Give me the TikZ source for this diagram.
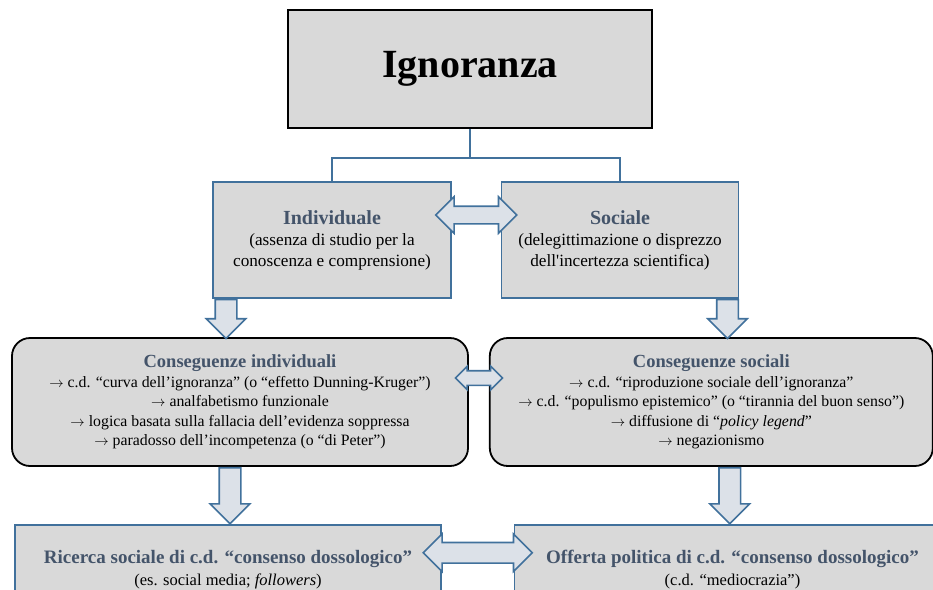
\documentclass[tikz,border=0pt]{standalone}
\usepackage{fontspec}
\setmainfont{Liberation Serif}
\usepackage{xcolor}
\usetikzlibrary{positioning,shapes.arrows,calc}
\definecolor{boxgray}{HTML}{D9D9D9}
\definecolor{linkblue}{HTML}{41719C}
\definecolor{headslate}{HTML}{44546A}
\definecolor{arrowfill}{HTML}{DCE1E8}
\newcommand{\pointer}{$\rightarrow$}
\tikzset{
  topbox/.style={draw=black, line width=1.8pt, fill=boxgray, inner sep=0pt, align=center},
  levelbox/.style={draw=linkblue, line width=1.5pt, fill=boxgray, inner sep=0pt, align=center},
  conbox/.style={draw=black, line width=1.8pt, fill=boxgray, rounded corners=18pt, inner sep=0pt, align=center},
  link/.style={draw=linkblue, line width=1.5pt},
  downarrow/.style={single arrow, draw=linkblue, fill=arrowfill, line width=1.6pt, inner sep=10pt,
    minimum width=38pt, single arrow head extend=9pt, shape border rotate=270},
  twoway/.style={double arrow, draw=linkblue, fill=arrowfill, line width=1.6pt}
}

\begin{document}
\begin{tikzpicture}[x=1pt, y=-1pt]
\useasboundingbox (0,0) rectangle (933,589);

% 1. Root
\node[topbox, minimum width=364pt, minimum height=118pt, font=\fontsize{40}{44}\selectfont\bfseries] (ign) at (470,69) {Ignoranza};

% 2. Two kinds of ignorance
\node[levelbox, minimum width=238pt, minimum height=116pt, font=\fontsize{17.2}{21}\selectfont] (indiv) at (332,240)
  {{\fontsize{20}{22}\selectfont\bfseries\color{headslate}Individuale}\\(assenza di studio per la\\conoscenza e comprensione)};
\node[levelbox, minimum width=237pt, minimum height=116pt, font=\fontsize{17.2}{21}\selectfont, right=49pt of indiv] (soc)
  {{\fontsize{20}{22}\selectfont\bfseries\color{headslate}Sociale}\\(delegittimazione o disprezzo\\dell\textquotesingle incertezza scientifica)};

% 3. Consequences
\node[conbox, minimum width=456pt, minimum height=128pt, font=\fontsize{15.8}{19.6}\selectfont] (consind) at (240,402)
  {{\fontsize{18.5}{21}\selectfont\bfseries\color{headslate}Conseguenze individuali}\\
   \pointer{} c.d. “curva dell’ignoranza” (o “effetto Dunning-Kruger”)\\
   \pointer{} analfabetismo funzionale\\
   \pointer{} logica basata sulla fallacia dell’evidenza soppressa\\
   \pointer{} paradosso dell’incompetenza (o “di Peter”)};
\node[conbox, minimum width=443pt, minimum height=128pt, font=\fontsize{15.8}{19.6}\selectfont, right=20pt of consind] (conssoc)
  {{\fontsize{18.5}{21}\selectfont\bfseries\color{headslate}Conseguenze sociali}\\
   \pointer{} c.d. “riproduzione sociale dell’ignoranza”\\
   \pointer{} c.d. “populismo epistemico” (o “tirannia del buon senso”)\\
   \pointer{} diffusione di “\textit{policy legend}”\\
   \pointer{} negazionismo};

% 4. Consensus (cut by the page edge)
\node[levelbox, minimum width=426pt, minimum height=90pt, anchor=north, font=\fontsize{16.5}{22}\selectfont] (ricerca) at (228,524)
  {{\fontsize{19}{22}\selectfont\bfseries\color{headslate}Ricerca sociale di c.d. “consenso dossologico”}\\
   (es. social media; \textit{followers})};
\node[levelbox, minimum width=436pt, minimum height=90pt, font=\fontsize{16.5}{22}\selectfont, right=72pt of ricerca] (offerta)
  {{\fontsize{19}{22}\selectfont\bfseries\color{headslate}Offerta politica di c.d. “consenso dossologico”}\\
   (c.d. “mediocrazia”)};

% 5. Connections
\coordinate (split) at ([yshift=-29pt]ign.south);
\draw[link] (ign.south) -- (split) -| (indiv.north);
\draw[link] (split) -| (soc.north);

\node[downarrow, minimum height=39pt, anchor=tail] (dn1) at ([xshift=-106pt]indiv.south) {};
\node[downarrow, minimum height=39pt, anchor=tail] (dn2) at ([xshift=107.5pt]soc.south) {};
\node[downarrow, minimum height=56pt, anchor=tail] (dn3) at ([xshift=-10pt]consind.south) {};
\node[downarrow, minimum height=56pt, anchor=tail] (dn4) at ([xshift=18.5pt]conssoc.south) {};

\node[twoway, inner sep=8pt, minimum height=81pt, minimum width=35pt, double arrow head extend=9.5pt, yshift=25pt] (lr1)
  at ($(indiv.east)!.5!(soc.west)$) {};
\node[twoway, inner sep=6.5pt, minimum height=47pt, minimum width=22pt, double arrow head extend=4.5pt, yshift=24pt] (lr2)
  at ($(consind.east)!.5!(conssoc.west)$) {};
\node[twoway, inner sep=9.5pt, minimum height=109pt, minimum width=36pt, double arrow head extend=8.5pt, yshift=17pt] (lr3)
  at ($(ricerca.east)!.5!(offerta.west)$) {};

\end{tikzpicture}
\end{document}
